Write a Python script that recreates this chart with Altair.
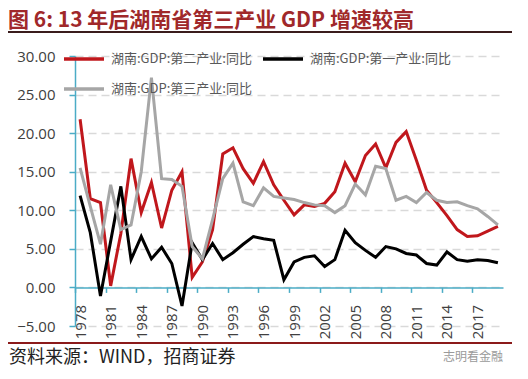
import altair as alt
import pandas as pd

years = list(range(1978, 2020))
tick_years = list(range(1978, 2018, 3)) + [2020]

n2 = "湖南:GDP:第二产业:同比"
n1 = "湖南:GDP:第一产业:同比"
n3 = "湖南:GDP:第三产业:同比"

secondary = [21.8, 11.5, 11.0, 0.2, 7.0, 16.7, 9.7, 13.6, 7.7, 12.6,
             15.0, 1.3, 3.3, 7.5, 17.3, 18.1, 15.4, 13.5, 16.3, 13.3,
             11.3, 9.4, 10.7, 10.5, 10.9, 12.4, 16.1, 13.7, 17.1, 18.6,
             15.5, 18.8, 20.2, 16.5, 12.6, 11.0, 9.3, 7.5, 6.6, 6.7,
             7.3, 7.9]
primary = [11.9, 7.1, -1.1, 6.0, 13.1, 3.6, 6.6, 3.7, 5.2, 3.1,
           -2.4, 5.8, 3.6, 5.7, 3.6, 4.5, 5.6, 6.6, 6.3, 6.1,
           1.0, 3.3, 3.9, 4.1, 2.7, 3.6, 7.4, 5.8, 4.8, 3.9,
           5.3, 5.0, 4.4, 4.2, 3.1, 2.9, 4.6, 3.6, 3.4, 3.6,
           3.5, 3.2]
tertiary = [15.5, 10.5, 5.6, 13.3, 7.5, 8.1, 15.0, 27.2, 14.1, 14.0,
            13.1, 5.3, 3.7, 8.8, 14.1, 16.1, 11.1, 10.6, 12.9, 11.8,
            11.6, 11.4, 11.0, 10.7, 10.6, 9.7, 10.6, 13.4, 12.0, 15.7,
            15.4, 11.3, 11.8, 11.0, 12.3, 11.3, 11.0, 11.1, 10.6, 10.2,
            9.2, 8.1]

title_text = "图 6: 13 年后湖南省第三产业 GDP 增速较高"
source_text = "资料来源：WIND，招商证券"
watermark_text = "志明看金融"

df = pd.DataFrame({
    "year": years * 3,
    "value": secondary + primary + tertiary,
    "series": [n2] * 42 + [n1] * 42 + [n3] * 42,
})

TEAL = "#4BACC6"
NUM_FONT = "Open Sans"
CJK = "Noto Sans CJK SC"

x = alt.X(
    "year:Q",
    scale=alt.Scale(domain=[1977.5, 2019.5], nice=False, zero=False),
    axis=alt.Axis(
        values=tick_years, format="d", labelAngle=270, offset=-38.6,
        grid=False, domainColor=TEAL, domainWidth=1.5,
        tickColor=TEAL, tickSize=5, tickWidth=1.5,
        tickOffset=-5.1, labelOffset=5.1, labelPadding=12,
        labelFont=NUM_FONT, labelFontSize=15, labelColor="#404040",
        labelExpr="datum.value > 2019 ? '' : datum.label",
        labelOverlap=False, title=None,
    ),
)
y = alt.Y(
    "value:Q",
    scale=alt.Scale(domain=[-5, 30], nice=False, zero=False),
    axis=alt.Axis(
        values=[-5, 0, 5, 10, 15, 20, 25, 30], format=".2f",
        domainColor=TEAL, domainWidth=1.5, tickColor=TEAL, tickSize=6,
        tickWidth=1.5, labelPadding=14, labelFont=NUM_FONT, labelFontSize=15,
        labelColor="#404040", gridColor="#D9D9D9", gridDash=[8, 5],
        gridWidth=1.5, title=None,
    ),
)
color = alt.Color(
    "series:N",
    sort=[n2, n1, n3],
    scale=alt.Scale(domain=[n2, n1, n3], range=["#C0171C", "#000000", "#A6A6A6"]),
    legend=alt.Legend(
        orient="none", legendX=-13, legendY=-19, columns=2, direction="horizontal",
        symbolType="stroke", symbolSize=1600, symbolStrokeWidth=3.5,
        labelFontSize=13, labelColor="#595959", labelFont=CJK,
        labelOffset=5, columnPadding=4, rowPadding=1, padding=0,
        labelLimit=400, title=None,
    ),
)

lines = alt.Chart(df).mark_line(strokeWidth=3).encode(x=x, y=y, color=color)

title = alt.Chart(pd.DataFrame({"t": [title_text]})).mark_text(
    align="left", baseline="middle", font=CJK, fontSize=21, fontWeight="bold",
    color="#A0282A",
).encode(text="t:N", x=alt.value(-67), y=alt.value(-35))

source = alt.Chart(pd.DataFrame({"t": [source_text]})).mark_text(
    align="left", baseline="middle", font=CJK, fontSize=18, color="#222222",
).encode(text="t:N", x=alt.value(-66), y=alt.value(302))

watermark = alt.Chart(pd.DataFrame({"t": [watermark_text]})).mark_text(
    align="left", baseline="middle", font=CJK, fontSize=12, color="#9A9A9A",
).encode(text="t:N", x=alt.value(368), y=alt.value(301))

top_rule = alt.Chart(pd.DataFrame({"a": [0]})).mark_rule(
    color="#3A1C1C", strokeWidth=2
).encode(x=alt.value(-67), x2=alt.value(437), y=alt.value(-24))

bottom_rule = alt.Chart(pd.DataFrame({"a": [0]})).mark_rule(
    color="#8B1A1A", strokeWidth=2
).encode(x=alt.value(-67), x2=alt.value(437), y=alt.value(287))

chart = alt.layer(lines, title, source, watermark, top_rule, bottom_rule).properties(
    width=428, height=270,
    padding={"left": 67, "top": 48, "right": 17, "bottom": 45},
    autosize=alt.AutoSizeParams(type="none"),
).configure_view(stroke=None)

chart.save("out.html", embed_options={"renderer": "svg", "actions": False})
